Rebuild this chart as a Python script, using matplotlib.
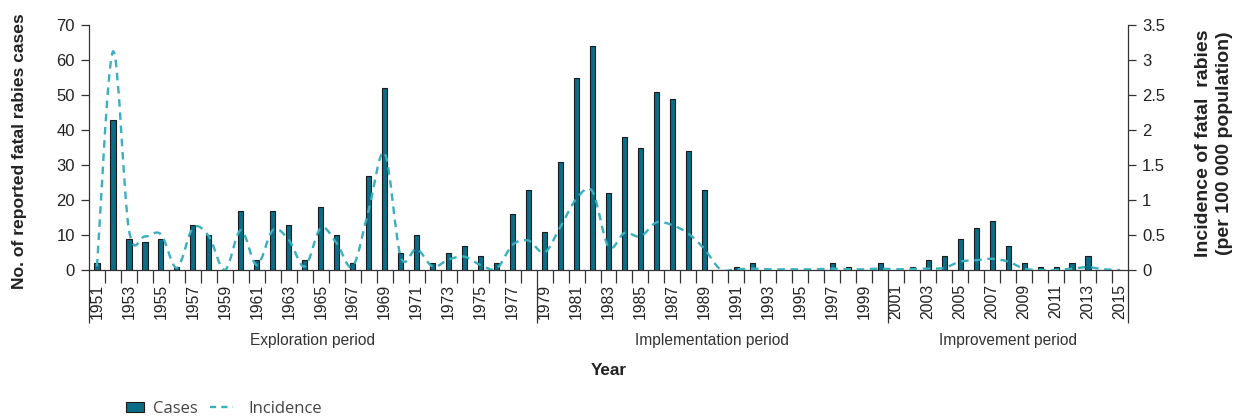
import numpy as np
import matplotlib
matplotlib.use("Agg")
import matplotlib.pyplot as plt
from matplotlib import font_manager as fm
from matplotlib.path import Path
from matplotlib.patches import PathPatch, Patch
from matplotlib.lines import Line2D

years = list(range(1951, 2016))
cases = [2, 43, 9, 8, 9, 1, 13, 10, 0, 17,
         3, 17, 13, 3, 18, 10, 2, 27, 52, 5,
         10, 2, 5, 7, 4, 2, 16, 23, 11, 31,
         55, 64, 22, 38, 35, 51, 49, 34, 23, 0,
         1, 2, 0, 0, 0, 0, 2, 1, 0, 2,
         0, 1, 3, 4, 9, 12, 14, 7, 2, 1,
         1, 2, 4, 0, 0]
incidence = [0.05, 3.12, 0.57, 0.48, 0.51, 0.03, 0.60, 0.48, 0.00, 0.57,
             0.07, 0.57, 0.43, 0.05, 0.60, 0.38, 0.05, 0.86, 1.67, 0.19,
             0.30, 0.05, 0.15, 0.19, 0.07, 0.02, 0.36, 0.42, 0.25, 0.62,
             1.02, 1.12, 0.33, 0.53, 0.48, 0.68, 0.64, 0.52, 0.30, 0.01,
             0.01, 0.02, 0.01, 0.01, 0.01, 0.01, 0.02, 0.01, 0.01, 0.02,
             0.01, 0.015, 0.02, 0.03, 0.12, 0.14, 0.16, 0.12, 0.02, 0.00,
             0.00, 0.02, 0.04, 0.01, 0.00]
periods = ["Exploration period", "Implementation period", "Improvement period"]
period_bounds = [1950.5, 1978.5, 2000.5, 2015.5]

BAR = "#0b6d85"
LINE = "#3aafbe"
AX = "#333333"

installed = {f.name for f in fm.fontManager.ttflist}
if "Liberation Sans Narrow" in installed:
    MAIN = "Liberation Sans Narrow"
    k = 1 / 0.82
else:
    MAIN = "Liberation Sans" if "Liberation Sans" in installed else "DejaVu Sans"
    k = 1.0
plt.rcParams["font.family"] = [MAIN, "DejaVu Sans"]
FS_TICK = 11.3 * k
FS_YTICK = 12.0 * k
FS_PER = 11.2 * k
FS_LBL = 12.6 * k
FS_R = 14.0 * k
FS_YEAR = 12.3 * k

fig = plt.figure(figsize=(12.45, 4.16), dpi=100)
ax = fig.add_axes([89 / 1245, (416 - 270) / 416, (1128 - 89) / 1245, 245 / 416])

ax.bar(years, cases, width=0.32, color=BAR, edgecolor="#1a1a1a", linewidth=0.8, zorder=2)
ax.set_xlim(1950.5, 2015.5)
ax.set_ylim(0, 70)
ax.set_yticks(range(0, 71, 10))
for s in ["top", "right"]:
    ax.spines[s].set_visible(False)
for s in ["left", "bottom"]:
    ax.spines[s].set_color(AX)
    ax.spines[s].set_linewidth(0.9)
ax.tick_params(axis="y", direction="out", length=6, width=0.9, color=AX, pad=4,
               labelsize=FS_YTICK, labelcolor="#222222")

odd = [y for y in years if y % 2 == 1]
ax.set_xticks(odd)
ax.set_xticklabels([str(y) for y in odd], rotation=90, fontsize=FS_TICK, color="#222222")
ax.set_xticks([y + 0.5 for y in years[:-1] if (y + 0.5) not in period_bounds], minor=True)
ax.tick_params(axis="x", which="major", length=0, pad=10)
ax.tick_params(axis="x", which="minor", length=9, width=0.9, color=AX, direction="out")

xt = ax.get_xaxis_transform()
for b in period_bounds:
    ax.plot([b, b], [0, -0.215], transform=xt, color=AX, lw=0.9, clip_on=False,
            solid_capstyle="butt")
for i, name in enumerate(periods):
    ax.text((period_bounds[i] + period_bounds[i + 1]) / 2, -0.286, name, transform=xt,
            ha="center", va="center", fontsize=FS_PER, color="#333333")
ax.text(0.5 * (1950.5 + 2015.5), -0.41, "Year", transform=xt, ha="center", va="center",
        fontsize=FS_YEAR, fontweight="bold", color="#222222")

ax2 = ax.twinx()
ax2.set_ylim(0, 3.5)
rt = [0, 0.5, 1, 1.5, 2, 2.5, 3, 3.5]
ax2.set_yticks(rt)
ax2.set_yticklabels([f"{v:g}" for v in rt])
for s in ["top", "left", "bottom"]:
    ax2.spines[s].set_visible(False)
ax2.spines["right"].set_color(AX)
ax2.spines["right"].set_linewidth(0.9)
ax2.tick_params(axis="y", direction="out", length=6, width=0.9, color=AX, pad=4,
                labelsize=FS_YTICK, labelcolor="#222222")

# smoothed (Catmull-Rom / Bezier) line through the incidence values
x = np.array(years, dtype=float)
y = np.array(incidence, dtype=float)
n = len(x)
verts = [(x[0], y[0])]
codes = [Path.MOVETO]
for i in range(n - 1):
    i0 = max(i - 1, 0)
    i3 = min(i + 2, n - 1)
    c1 = (x[i] + (x[i + 1] - x[i0]) / 6, y[i] + (y[i + 1] - y[i0]) / 6)
    c2 = (x[i + 1] - (x[i3] - x[i]) / 6, y[i + 1] - (y[i3] - y[i]) / 6)
    verts += [c1, c2, (x[i + 1], y[i + 1])]
    codes += [Path.CURVE4] * 3
ax2.add_patch(PathPatch(Path(verts, codes), fill=False, edgecolor=LINE, lw=1.7,
                        linestyle=(0, (3.2, 2.4)), zorder=3))

fig.text(20 / 1245, 1 - 151 / 416, "No. of reported fatal rabies cases", rotation=90,
         ha="center", va="center", fontsize=FS_LBL, fontweight="bold", color="#222222")
fig.text(1214 / 1245, 1 - 143 / 416, "Incidence of fatal  rabies\n(per 100 000 population)",
         rotation=90, ha="center", va="center", multialignment="center", linespacing=1.3,
         fontsize=FS_R, fontweight="bold", color="#222222")

leg_prop = {"family": ["Open Sans", "DejaVu Sans"], "size": 12}
leg1 = fig.legend([Patch(facecolor=BAR, edgecolor="#1a1a1a", linewidth=0.8)], ["Cases"],
                  loc="center left", bbox_to_anchor=(126 / 1245, 1 - 409 / 416),
                  frameon=False, handlelength=1.1, handleheight=0.5, handletextpad=0.5,
                  prop=leg_prop, labelcolor="#444444", borderaxespad=0, borderpad=0)
leg2 = fig.legend([Line2D([0], [0], color=LINE, lw=1.7, linestyle=(0, (2.6, 2.2)))],
                  ["Incidence"], loc="center left",
                  bbox_to_anchor=(210 / 1245, 1 - 409 / 416),
                  frameon=False, handlelength=1.4, handletextpad=0.9,
                  prop=leg_prop, labelcolor="#444444", borderaxespad=0, borderpad=0)

fig.savefig("out.png", dpi=100)
